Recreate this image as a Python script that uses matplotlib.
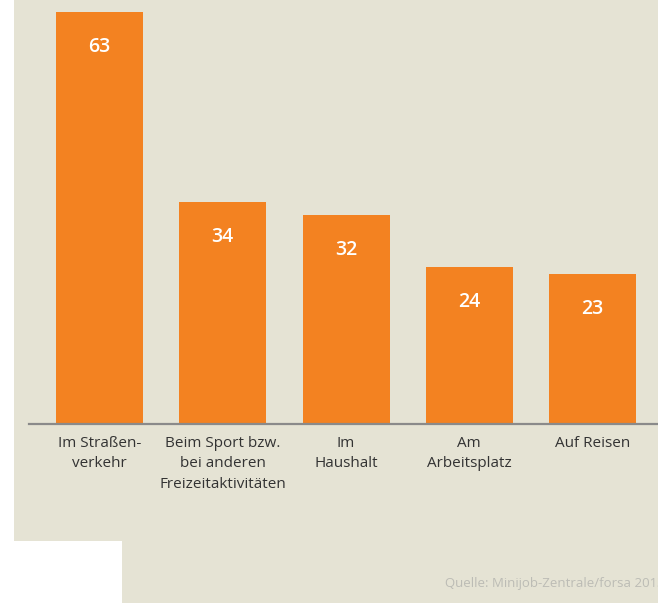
import matplotlib.pyplot as plt
from matplotlib.patches import Polygon

# Daten
kategorien = ["Im Straßen-\nverkehr", "Beim Sport bzw.\nbei anderen\nFreizeitaktivitäten",
              "Im\nHaushalt", "Am\nArbeitsplatz", "Auf Reisen"]
werte = [63, 34, 32, 24, 23]
quelle = "Quelle: Minijob-Zentrale/forsa 2013"

orange = "#F38221"
beige = "#E5E3D4"

W, H = 658, 603
fig = plt.figure(figsize=(W / 100, H / 100), dpi=100, facecolor="white")

# beige Hintergrundfläche (L-Form)
pts = [(14, 0), (658, 0), (658, 603), (122, 603), (122, 541), (14, 541)]
pts = [(x / W, 1 - y / H) for x, y in pts]
fig.patches.append(Polygon(pts, closed=True, transform=fig.transFigure,
                           facecolor=beige, edgecolor="none", zorder=-5))

plt.rcParams['font.family'] = ['Open Sans', 'DejaVu Sans']

# Achse: Grundlinie bei y=424px, höchster Balken oben bei y=12px
step = 123.25
left_px = 29
ax = fig.add_axes([left_px / W, (H - 424) / H, (W - left_px) / W, (424 - 12) / H])
ax.set_facecolor("none")
ax.set_zorder(2)

x = list(range(len(werte)))
ax.bar(x, werte, width=87 / step, color=orange, zorder=2)
x0 = (99.5 - left_px) / step
ax.set_xlim(-x0, -x0 + (W - left_px) / step)
ax.set_ylim(0, 63)

for xi, v in zip(x, werte):
    ax.annotate(str(v), (xi, v), xytext=(0, -35 * 0.72), textcoords="offset points",
                ha="center", va="center", color="white", fontsize=14, fontweight="semibold")

for s in ["top", "left", "right"]:
    ax.spines[s].set_visible(False)
ax.spines["bottom"].set_color("#8a8a8a")
ax.spines["bottom"].set_linewidth(1.6)
ax.set_yticks([])
ax.set_xticks(x)
ax.set_xticklabels(kategorien, fontsize=11, color="#333333", linespacing=1.5, va="top")
ax.tick_params(axis="x", length=0, pad=8.5)

fig.text(445 / W, 1 - 583 / H, quelle, fontsize=9.5, color="#bcbcb5", va="center", ha="left")

fig.savefig("out.png", dpi=100, facecolor="white")
